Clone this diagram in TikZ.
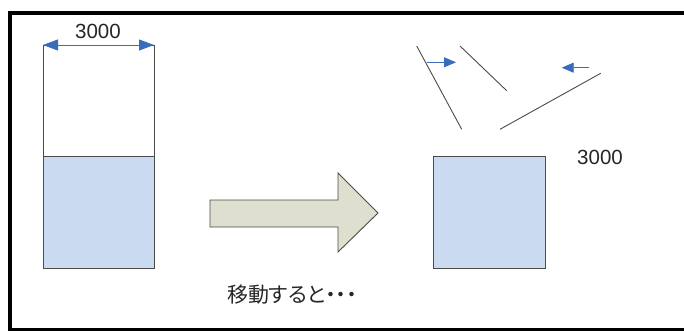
\documentclass[tikz,border=0pt]{standalone}
\usepackage{fontspec}
\setmainfont{Liberation Sans}
\newfontfamily\jpfont[RawFeature=+palt]{Noto Sans CJK JP}
\usetikzlibrary{arrows.meta}
\definecolor{waterblue}{RGB}{202,218,240}
\definecolor{arrowfill}{RGB}{222,223,206}
\definecolor{dimblue}{RGB}{58,108,188}
\definecolor{linegray}{RGB}{75,75,75}
\tikzset{
  tank/.style={draw=linegray, line width=0.9pt},
  water/.style={tank, fill=waterblue},
  dimarrow/.style={draw=dimblue, line width=0.8pt, {Triangle[length=15pt,width=11pt]}-{Triangle[length=15pt,width=11pt]}},
  flowarrow/.style={draw=dimblue, line width=0.8pt, -{Triangle[length=12pt,width=10pt]}},
  wall/.style={draw=linegray, line width=0.9pt},
  bigarrow/.style={draw=linegray, line width=0.9pt, fill=arrowfill},
  numlabel/.style={font=\fontsize{20.5}{24}\selectfont, inner sep=0pt, text=black!85},
  caption/.style={font=\jpfont\fontsize{21}{24}\selectfont, inner sep=0pt, text=black!85}
}
\begin{document}
\begin{tikzpicture}[x=1pt,y=-1pt]
\useasboundingbox (0,0) rectangle (684,331);
\clip (0,0) rectangle (684,331);
\fill[white] (0,0) rectangle (684,331);
% outer frame
\draw[line width=4pt] (10,13) rectangle (700,330);
% left tank
\coordinate (tl) at (43,45);
\coordinate (tr) at (154,45);
\draw[tank] (43,45) rectangle (154,156);
\draw[water] (43,156) rectangle (154,268);
\draw[dimarrow] (tl) -- (tr);
\node[numlabel] (dimlabel) at (98,31) {3000};
% big arrow
\draw[bigarrow] (210,200) -- (338,200) -- (338,173) -- (378,213) -- (338,252) -- (338,227) -- (210,227) -- cycle;
\node[caption] (cap) at (292,295) {移動すると・・・};
% right square
\draw[water] (433,156) rectangle (545,268);
\node[numlabel] (rlabel) at (600,157) {3000};
% walls
\coordinate (w1a) at (416.7,46);
\coordinate (w1b) at (461.7,129.3);
\coordinate (w2a) at (460,46);
\coordinate (w2b) at (506.7,90.7);
\coordinate (w3a) at (500,129.3);
\coordinate (w3b) at (600.7,73.3);
\draw[wall] (w1a) -- (w1b);
\draw[wall] (w2a) -- (w2b);
\draw[wall] (w3a) -- (w3b);
% flow arrows
\coordinate (f1a) at (426.7,62.3);
\coordinate (f1b) at (456,62.3);
\coordinate (f2a) at (589.3,67.7);
\coordinate (f2b) at (561.7,67.7);
\draw[flowarrow] (f1a) -- (f1b);
\draw[flowarrow] (f2a) -- (f2b);
\end{tikzpicture}
\end{document}
